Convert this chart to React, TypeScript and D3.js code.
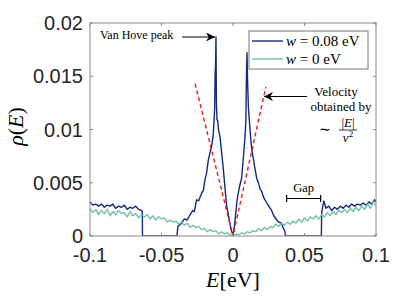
import React, { useEffect, useRef } from 'react';
import * as d3 from 'd3';

// rho values are written in units of 1e-3
const greenStart = -0.1;
const greenStep = 0.002;
const greenRho = [
    2.6, 2.2, 2.5, 2.0, 2.4, 2.1, 2.5, 1.9, 2.3, 2.0,
    2.4, 2.1, 2.2, 1.8, 2.3, 1.9, 2.1, 1.7, 2.0, 1.8,
    2.0, 1.6, 1.9, 1.5, 1.8, 1.6, 1.7, 1.3, 1.5, 1.3,
    1.4, 1.1, 1.3, 1.0, 1.2, 0.8, 1.0, 0.8, 0.9, 0.6,
    0.7, 0.4, 0.6, 0.4, 0.5, 0.2, 0.4, 0.2, 0.3, 0.1,
    0.0,
    0.2, 0.1, 0.3, 0.2, 0.4, 0.3, 0.5, 0.4, 0.7, 0.5,
    0.8, 0.6, 0.9, 0.8, 1.1, 0.9, 1.2, 1.0, 1.3, 1.1,
    1.4, 1.2, 1.6, 1.3, 1.7, 1.4, 1.8, 1.6, 1.9, 1.6,
    2.0, 1.8, 2.2, 1.9, 2.3, 2.0, 2.4, 2.2, 2.5, 2.2,
    2.6, 2.3, 2.7, 2.4, 2.8, 2.5, 3.0, 2.6, 3.2, 2.8,
];

// w = 0.08 eV series: [E, rho (1e-3)]
const blueSeries: [number, number][] = [
    [-0.100, 3.2], [-0.098, 2.9], [-0.096, 3.0], [-0.094, 2.8], [-0.092, 3.0],
    [-0.090, 2.7], [-0.088, 2.9], [-0.086, 2.8], [-0.084, 3.0], [-0.082, 2.6],
    [-0.080, 2.8], [-0.078, 2.7], [-0.076, 2.9], [-0.074, 2.5], [-0.072, 2.7],
    [-0.070, 2.6], [-0.068, 2.8], [-0.066, 2.5], [-0.064, 2.4], [-0.0634, 2.3],
    [-0.0633, 0], [-0.0392, 0], [-0.0390, 0.3], [-0.0385, 0.9], [-0.036, 1.2],
    [-0.034, 1.6], [-0.032, 1.5], [-0.030, 2.0], [-0.028, 2.4], [-0.027, 2.3],
    [-0.0255, 3.4], [-0.024, 3.3], [-0.022, 4.0], [-0.0207, 4.3], [-0.0196, 5.3],
    [-0.0185, 5.9], [-0.0173, 7.1], [-0.0161, 7.8], [-0.015, 8.4], [-0.0138, 9.5],
    [-0.0128, 12.0], [-0.0125, 15.2], [-0.0122, 16.0], [-0.0119, 18.7], [-0.0116, 12.5],
    [-0.0112, 10.9], [-0.0108, 10.9], [-0.0100, 9.9], [-0.0091, 9.3], [-0.0079, 7.8],
    [-0.0070, 6.6], [-0.0063, 5.6], [-0.0054, 4.2], [-0.0044, 2.8], [-0.0035, 2.2],
    [-0.0026, 1.5], [-0.0014, 0.6], [0.0, 0.1], [0.0010, 0.9], [0.0020, 2.2],
    [0.0026, 3.1], [0.0035, 3.9], [0.0045, 4.6], [0.0060, 5.4], [0.0072, 7.3],
    [0.0084, 9.3], [0.0090, 10.9], [0.0093, 14.0], [0.0095, 15.6], [0.0098, 17.2],
    [0.0102, 14.5], [0.0108, 12.0], [0.0119, 10.0], [0.0131, 8.1], [0.0142, 7.3],
    [0.0150, 6.6], [0.0158, 6.0], [0.0166, 5.4], [0.0180, 4.9], [0.0190, 4.4],
    [0.0200, 4.2], [0.0215, 3.6], [0.0236, 3.1], [0.0250, 2.8], [0.0270, 2.4],
    [0.0285, 1.9], [0.0306, 1.5], [0.0320, 1.3], [0.0340, 1.2], [0.0350, 0.8],
    [0.0364, 0.4], [0.0366, 0], [0.0618, 0], [0.0620, 2.2], [0.0635, 3.3],
    [0.065, 2.6], [0.067, 2.8], [0.069, 2.4], [0.071, 2.7], [0.073, 2.5],
    [0.075, 2.8], [0.077, 2.6], [0.079, 2.9], [0.081, 2.7], [0.083, 3.0],
    [0.085, 2.8], [0.087, 3.0], [0.089, 2.9], [0.091, 3.1], [0.093, 2.9],
    [0.095, 3.2], [0.097, 3.0], [0.099, 3.4], [0.100, 3.2],
];

// red dashed guide |E|/v^2
const guideLine: [number, number][] = [[-0.0265, 14.3], [0, 0], [0.023, 14.0]];

const xTicks = [-0.1, -0.05, 0, 0.05, 0.1];
const xTickLabels = ['-0.1', '-0.05', '0', '0.05', '0.1'];
const yTicks = [0, 0.005, 0.01, 0.015, 0.02];
const yTickLabels = ['0', '0.005', '0.01', '0.015', '0.02'];

const legendLabels = ['0.08', '0'];

const BLUE = '#132a7c';
const GREEN = '#72c2aa';

const App = () => {
    const svgRef = useRef(null);

    useEffect(() => {
        if (!svgRef.current) return;
        const root = d3.select(svgRef.current);
        root.selectAll('*').remove();

        const margin = { top: 23, right: 39, bottom: 60, left: 90 };
        const width = 415 - margin.left - margin.right;
        const height = 296 - margin.top - margin.bottom;

        const x = d3.scaleLinear().domain([-0.1, 0.1]).range([0, width]);
        const y = d3.scaleLinear().domain([0, 0.02]).range([height, 0]);

        const defs = root.append('defs');
        defs.append('clipPath').attr('id', 'plotclip')
            .append('rect').attr('x', 0).attr('y', -2).attr('width', width).attr('height', height + 2);
        defs.append('marker')
            .attr('id', 'arrowhead')
            .attr('viewBox', '0 0 10 10')
            .attr('refX', 10).attr('refY', 5)
            .attr('markerWidth', 9).attr('markerHeight', 9)
            .attr('markerUnits', 'userSpaceOnUse')
            .attr('orient', 'auto')
            .append('path').attr('d', 'M0,0 L10,5 L0,10 L3,5 Z').attr('fill', '#000');

        const svg = root.append('g').attr('transform', `translate(${margin.left},${margin.top})`);

        svg.append('rect').attr('width', width).attr('height', height).attr('fill', '#fff');

        const line = d3.line<[number, number]>()
            .x(d => x(d[0]))
            .y(d => y(d[1] / 1000));

        const greenData: [number, number][] = greenRho.map((v, i) => [greenStart + i * greenStep, v]);

        const plot = svg.append('g').attr('clip-path', 'url(#plotclip)');

        plot.append('path').datum(blueSeries)
            .attr('fill', 'none').attr('stroke', BLUE).attr('stroke-width', 1.4)
            .attr('stroke-linejoin', 'round')
            .attr('d', line);

        plot.append('path').datum(greenData)
            .attr('fill', 'none').attr('stroke', GREEN).attr('stroke-width', 1.4)
            .attr('stroke-linejoin', 'round')
            .attr('d', line);

        plot.append('path').datum(guideLine)
            .attr('fill', 'none').attr('stroke', '#f01818').attr('stroke-width', 1.4)
            .attr('stroke-dasharray', '4,3')
            .attr('d', line);

        // Box and inward ticks
        const axisColor = '#8a8a8a';
        svg.append('rect').attr('width', width).attr('height', height)
            .attr('fill', 'none').attr('stroke', axisColor).attr('stroke-width', 1);

        xTicks.forEach((t, i) => {
            svg.append('line').attr('x1', x(t)).attr('x2', x(t)).attr('y1', height).attr('y2', height - 3)
                .attr('stroke', axisColor);
            svg.append('line').attr('x1', x(t)).attr('x2', x(t)).attr('y1', 0).attr('y2', 3)
                .attr('stroke', axisColor);
            svg.append('text')
                .attr('x', x(t)).attr('y', height + 26)
                .attr('text-anchor', 'middle')
                .style('font-family', '"Liberation Sans", Arial, sans-serif')
                .style('font-size', '20px')
                .style('fill', '#262626')
                .text(xTickLabels[i]);
        });

        yTicks.forEach((t, i) => {
            svg.append('line').attr('x1', 0).attr('x2', 3).attr('y1', y(t)).attr('y2', y(t))
                .attr('stroke', axisColor);
            svg.append('line').attr('x1', width).attr('x2', width - 3).attr('y1', y(t)).attr('y2', y(t))
                .attr('stroke', axisColor);
            svg.append('text')
                .attr('x', -7).attr('y', y(t) + 7)
                .attr('text-anchor', 'end')
                .style('font-family', '"Liberation Sans", Arial, sans-serif')
                .style('font-size', '20px')
                .style('fill', '#262626')
                .text(yTickLabels[i]);
        });

        const serif = '"Liberation Serif", "Times New Roman", serif';

        // Axis labels
        const xl = svg.append('text')
            .attr('x', width / 2).attr('y', height + 51)
            .attr('text-anchor', 'middle')
            .style('font-family', serif).style('font-size', '22px').style('fill', '#000');
        xl.append('tspan').style('font-style', 'italic').text('E');
        xl.append('tspan').text('[eV]');

        const yl = svg.append('text')
            .attr('transform', `translate(${-67},${height / 2 - 3}) rotate(-90)`)
            .attr('text-anchor', 'middle')
            .style('font-family', serif).style('font-size', '22px').style('fill', '#000');
        yl.append('tspan').style('font-style', 'italic').text('ρ');
        yl.append('tspan').text('(');
        yl.append('tspan').style('font-style', 'italic').text('E');
        yl.append('tspan').text(')');

        // Legend
        const lg = svg.append('g').attr('transform', `translate(${159},${8})`);
        lg.append('rect').attr('width', 119).attr('height', 38)
            .attr('fill', '#fff').attr('stroke', '#777').attr('stroke-width', 1);
        [BLUE, GREEN].forEach((c, i) => {
            const yy = 10 + i * 18;
            lg.append('line').attr('x1', 3).attr('x2', 34).attr('y1', yy).attr('y2', yy)
                .attr('stroke', c).attr('stroke-width', 1.4);
            const t = lg.append('text').attr('x', 37).attr('y', yy + 5)
                .style('font-family', serif).style('font-size', '15px').style('fill', '#000');
            t.append('tspan').style('font-style', 'italic').text('w');
            t.append('tspan').text(` = ${legendLabels[i]} eV`);
        });

        // Annotations
        svg.append('text').attr('x', 10).attr('y', 16)
            .style('font-family', serif).style('font-size', '12px').style('fill', '#000')
            .text('Van Hove peak');
        svg.append('line').attr('x1', 92).attr('x2', x(-0.0119) - 1).attr('y1', 14).attr('y2', 14)
            .attr('stroke', '#000').attr('stroke-width', 1.2).attr('marker-end', 'url(#arrowhead)');

        svg.append('line').attr('x1', 217).attr('x2', 174).attr('y1', 73.5).attr('y2', 73.5)
            .attr('stroke', '#000').attr('stroke-width', 1.2).attr('marker-end', 'url(#arrowhead)');
        const annot = svg.append('g')
            .style('font-family', serif).style('font-size', '13px').style('fill', '#000');
        annot.append('text').attr('x', 246).attr('y', 73).attr('text-anchor', 'middle').text('Velocity');
        annot.append('text').attr('x', 251).attr('y', 88).attr('text-anchor', 'middle').text('obtained by');
        annot.append('text').attr('x', 235).attr('y', 111).attr('text-anchor', 'middle')
            .style('font-size', '14px').text('∼');
        const num = annot.append('text').attr('x', 258).attr('y', 103.5).attr('text-anchor', 'middle');
        num.append('tspan').text('|');
        num.append('tspan').style('font-style', 'italic').text('E');
        num.append('tspan').text('|');
        svg.append('line').attr('x1', 249).attr('x2', 267).attr('y1', 107).attr('y2', 107)
            .attr('stroke', '#000').attr('stroke-width', 0.8);
        const den = annot.append('text').attr('x', 258).attr('y', 118.5).attr('text-anchor', 'middle');
        den.append('tspan').style('font-style', 'italic').text('v');
        den.append('tspan').attr('dy', -5).style('font-size', '9px').text('2');

        // Gap bracket
        const gx1 = x(0.0375), gx2 = x(0.0613), gy = 175.5;
        svg.append('line').attr('x1', gx1).attr('x2', gx2).attr('y1', gy).attr('y2', gy)
            .attr('stroke', '#000').attr('stroke-width', 1.2);
        [gx1, gx2].forEach(gx => {
            svg.append('line').attr('x1', gx).attr('x2', gx).attr('y1', gy - 3.5).attr('y2', gy + 3.5)
                .attr('stroke', '#000').attr('stroke-width', 1.2);
        });
        svg.append('text').attr('x', (gx1 + gx2) / 2).attr('y', gy - 7)
            .attr('text-anchor', 'middle')
            .style('font-family', serif).style('font-size', '12.5px').style('fill', '#000')
            .text('Gap');
    }, []);

    return (
        <svg
            ref={svgRef}
            width={415}
            height={296}
            style={{ position: 'fixed', left: 0, top: 0, background: '#fff' }}
        />
    );
};

export default App;
